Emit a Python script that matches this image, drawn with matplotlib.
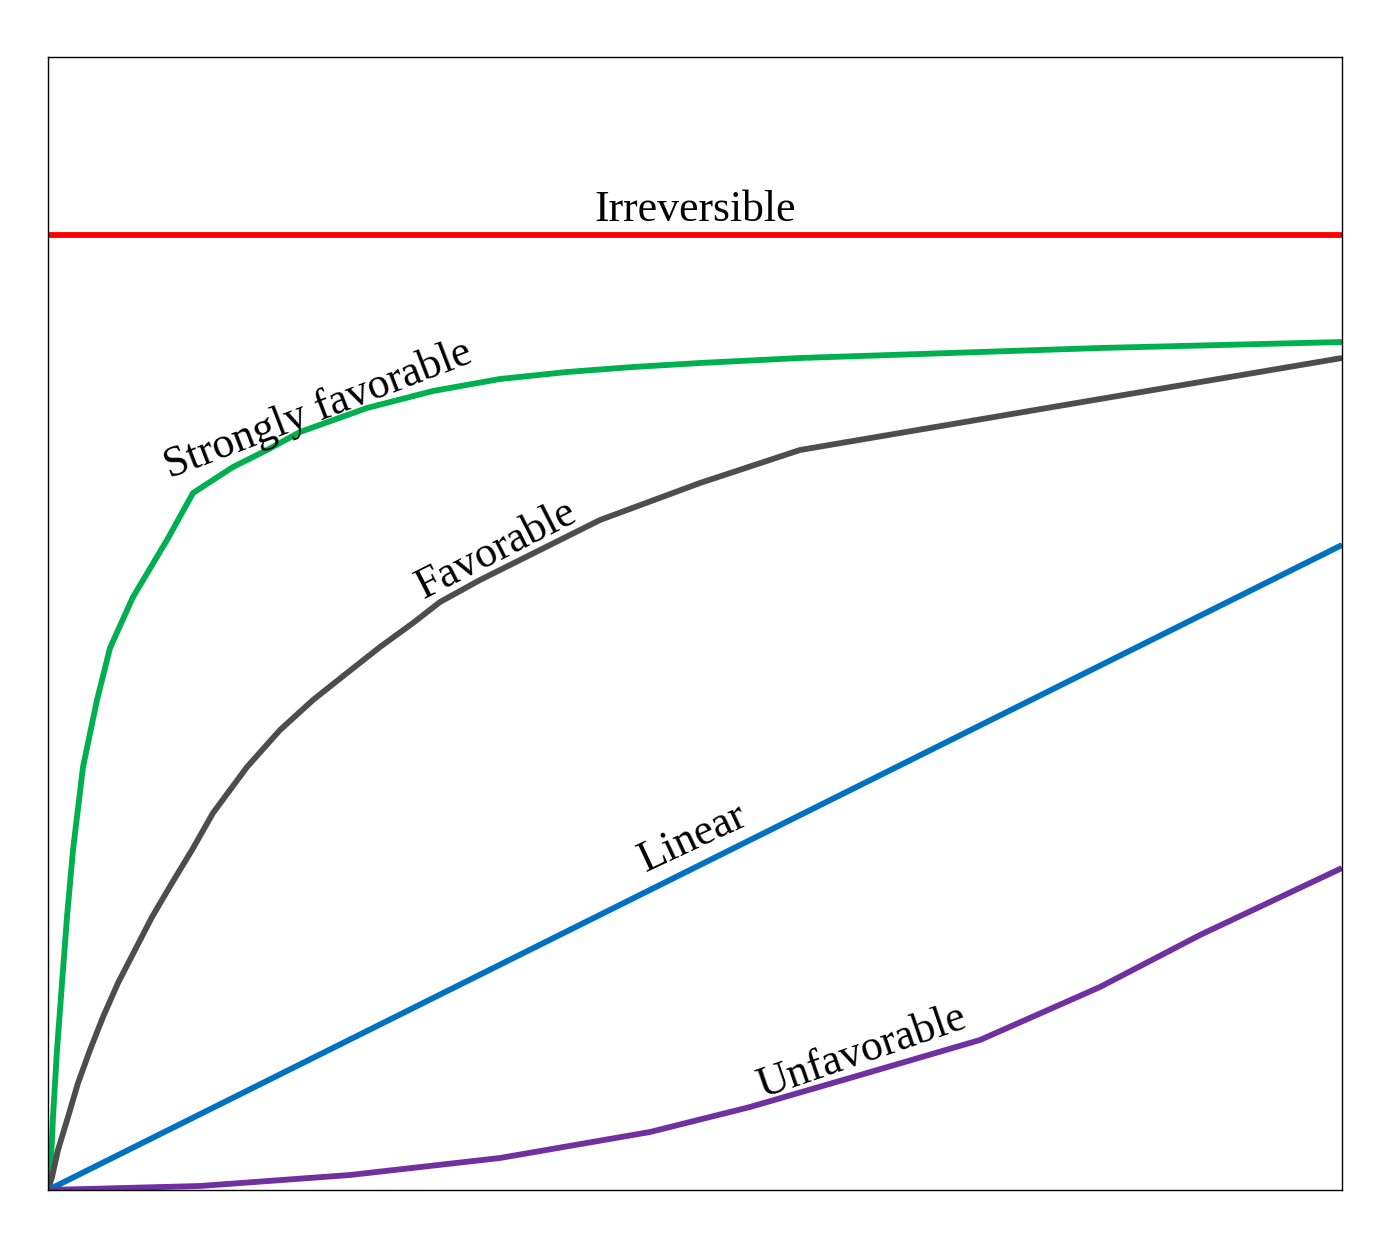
import matplotlib
matplotlib.use("Agg")
import matplotlib.pyplot as plt

# Values, in pixel coordinates of the original picture
# (x from left edge, y from top); converted to 0-100 units below.
X0, X1 = 48, 1342
Y0, Y1 = 1190, 57

irreversible_py = 235

strong_px = [48, 50, 53, 57, 62, 67, 73, 83, 97, 110, 133, 167, 193, 233, 267, 300, 367, 433, 500, 567, 633, 700, 800, 1100, 1342]
strong_py = [1190, 1183, 1117, 1050, 983, 917, 850, 767, 700, 648, 597, 540, 493, 467, 450, 432, 408, 391, 379, 372, 367, 363, 358, 348, 342]

fav_px = [48, 52, 58, 68, 78, 90, 103, 118, 135, 152, 172, 192, 213, 247, 280, 313, 347, 380, 413, 440, 480, 550, 600, 700, 800, 1100, 1342]
fav_py = [1190, 1177, 1150, 1117, 1083, 1050, 1017, 983, 950, 917, 883, 850, 813, 767, 730, 700, 673, 647, 623, 602, 580, 545, 520, 483, 450, 399, 358]

lin_px = [48, 1342]
lin_py = [1190, 545]

unfav_px = [48, 200, 350, 500, 650, 750, 850, 980, 1100, 1200, 1342]
unfav_py = [1190, 1186, 1175, 1158, 1132, 1107, 1078, 1040, 987, 935, 868]

labels = ["Irreversible", "Strongly favorable", "Favorable", "Linear", "Unfavorable"]


def to_x(vals):
    return [(v - X0) / (X1 - X0) * 100 for v in vals]


def to_y(vals):
    return [(Y0 - v) / (Y0 - Y1) * 100 for v in vals]


fig = plt.figure(figsize=(13.93, 12.44), dpi=100)
ax = fig.add_axes([48/1393, 54/1244, 1294/1393, 1133/1244])

lw = 4.2
kw = dict(lw=lw, solid_joinstyle="round", solid_capstyle="butt")
ax.axhline(to_y([irreversible_py])[0], color="#FF0000", lw=lw)
ax.plot(to_x(strong_px), to_y(strong_py), color="#00B050", **kw)
ax.plot(to_x(fav_px), to_y(fav_py), color="#4D4D4D", **kw)
ax.plot(to_x(lin_px), to_y(lin_py), color="#0070C0", **kw)
ax.plot(to_x(unfav_px), to_y(unfav_py), color="#7030A0", **kw)

ax.set_xlim(0, 100)
ax.set_ylim(0, 100)
ax.set_xticks([])
ax.set_yticks([])
for s in ax.spines.values():
    s.set_linewidth(1.0)
    s.set_color("black")

fs = 31.5
font = "Liberation Serif"
ax.text(50.0, 85.5, labels[0], ha="center", va="baseline", fontsize=fs, family=font)
ax.text(20.87, 68.84, labels[1], ha="center", va="center", fontsize=fs, family=font,
        rotation=21, rotation_mode="anchor")
ax.text(34.70, 56.49, labels[2], ha="center", va="center", fontsize=fs, family=font,
        rotation=27, rotation_mode="anchor")
ax.text(49.85, 31.07, labels[3], ha="center", va="center", fontsize=fs, family=font,
        rotation=25, rotation_mode="anchor")
ax.text(62.91, 12.18, labels[4], ha="center", va="center", fontsize=fs, family=font,
        rotation=19, rotation_mode="anchor")

fig.savefig("out.png", dpi=100, facecolor="white")
